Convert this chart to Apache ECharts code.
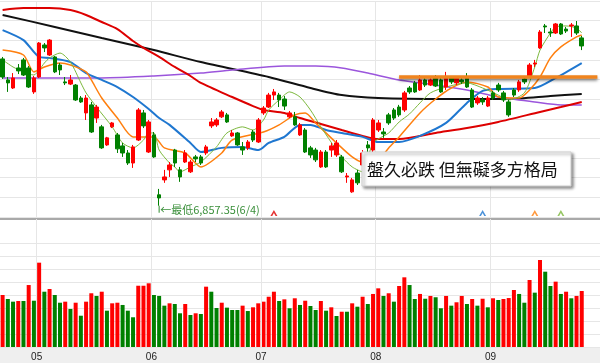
<!DOCTYPE html>
<html><head><meta charset="utf-8">
<script src="https://cdn.jsdelivr.net/npm/echarts@6/dist/echarts.min.js"></script>
<style>html,body{margin:0;padding:0;background:#fff}#c{width:600px;height:363px}</style>
</head><body><div id="c"></div>
<script>
// ---- data (TAIEX, 2012/04/20 – 2012/09/29) ----
const monthDays = {
  '04': [20,23,24,25,26,27,30],
  '05': [2,3,4,7,8,9,10,11,14,15,16,17,18,21,22,23,24,25,28,29,30,31],
  '06': [1,4,5,6,7,8,11,12,13,14,15,18,19,20,21,22,25,26,27,28,29],
  '07': [2,3,4,5,6,9,10,11,12,13,16,17,18,19,20,23,24,25,26,27,30,31],
  '08': [1,3,6,7,8,9,10,13,14,15,16,17,20,21,22,23,24,27,28,29,30,31],
  '09': [3,4,5,6,7,10,11,12,13,14,17,18,19,20,21,24,25,26,27,28,29]
};
// [open, close, low, high]
const candles = [
[7605,7513,7503,7615],[7498,7483,7437,7513],[7457,7508,7452,7533],[7559,7544,7528,7579],[7600,7523,7518,7610],
[7559,7462,7457,7569],[7437,7508,7427,7518],[7513,7686,7508,7691],[7676,7661,7640,7686],[7625,7701,7620,7706],
[7615,7539,7533,7620],[7574,7549,7523,7584],[7488,7483,7472,7513],[7477,7498,7472,7523],[7472,7396,7391,7477],
[7406,7386,7381,7416],[7330,7406,7294,7421],[7371,7233,7228,7386],[7304,7360,7279,7371],[7259,7152,7147,7269],
[7167,7203,7162,7208],[7259,7279,7253,7284],[7218,7147,7126,7228],[7162,7126,7106,7177],[7126,7075,7065,7141],
[7075,7157,7050,7167],[7192,7345,7187,7355],[7330,7264,7253,7345],[7131,7284,7126,7294],[7218,7106,7101,7233],
[6913,6897,6857.35,6943],[6989,7004,6974,7040],[7040,7065,7004,7080],[7141,7075,7055,7147],[7040,7004,6979,7055],
[7080,7126,7075,7141],[7030,7080,7024,7091],[7106,7096,7080,7116],[7106,7075,7065,7116],[7126,7157,7116,7167],
[7264,7284,7253,7304],[7269,7294,7259,7304],[7310,7335,7304,7345],[7320,7284,7279,7330],[7213,7228,7208,7243],
[7228,7167,7162,7233],[7157,7141,7116,7182],[7152,7182,7141,7192],[7233,7192,7182,7243],[7182,7294,7177,7304],
[7330,7355,7320,7365],[7360,7421,7355,7432],[7421,7437,7396,7452],[7421,7396,7360,7432],[7401,7365,7345,7416],
[7310,7330,7304,7340],[7310,7269,7264,7335],[7218,7269,7213,7279],[7243,7131,7126,7253],[7152,7116,7101,7162],
[7141,7091,7080,7152],[7055,7131,7050,7141],[7131,7055,7050,7141],[7141,7162,7106,7177],[7116,7177,7106,7192],
[7106,7030,7024,7116],[7004,7009,6974,7024],[6928,6989,6923,6999],[7024,6974,6963,7040],[7065,7126,7050,7141],
[7167,7152,7131,7187],[7141,7294,7131,7304],[7243,7279,7233,7294],[7233,7223,7203,7253],[7320,7279,7269,7330],
[7345,7304,7294,7355],[7360,7320,7310,7371],[7345,7432,7335,7442],[7457,7437,7427,7467],[7483,7437,7432,7493],
[7447,7498,7442,7523],[7498,7472,7462,7508],[7472,7498,7467,7508],[7513,7467,7462,7523],[7498,7437,7432,7508],
[7462,7513,7447,7539],[7508,7488,7477,7518],[7483,7508,7472,7518],[7498,7488,7477,7508],[7513,7462,7457,7533],
[7447,7360,7355,7457],[7381,7406,7371,7416],[7396,7386,7371,7411],[7365,7406,7360,7416],[7432,7406,7396,7442],
[7472,7447,7437,7483],[7432,7396,7386,7442],[7386,7320,7310,7396],[7447,7421,7411,7457],[7447,7488,7437,7498],
[7503,7488,7477,7513],[7518,7574,7513,7584],[7579,7584,7564,7600],[7661,7742,7656,7752],[7773,7768,7737,7783],
[7742,7737,7717,7762],[7737,7783,7732,7788],[7783,7732,7727,7788],[7757,7747,7737,7768],[7773,7778,7717,7788],
[7773,7737,7727,7798],[7712,7671,7650,7722]
];
// volume (億元) and whether the day closed up (1) or down (0)
const volumes = [600,554,523,531,531,715,534,973,638,669,600,511,523,439,511,361,523,620,589,638,
419,504,511,485,419,343,707,707,735,600,589,477,504,496,389,496,369,389,381,696,
638,450,511,454,427,427,477,415,458,504,523,580,638,531,550,447,562,485,534,473,
427,531,419,458,358,407,407,504,465,580,496,612,677,589,620,523,704,804,715,554,
612,557,589,574,447,589,477,516,589,496,554,477,557,458,562,542,554,565,658,612,
511,773,627,1004,869,704,754,612,638,562,589,646];
const volUp = [1,0,0,1,0,1,0,1,0,1, 0,0,1,0,1,0,1,1,0,1, 0,1,1,0,0,0,1,1,1,0, 0,0,1,0,0,1,0,1,0,1,
0,0,1,0,0,0,1,0,1,1, 1,1,1,0,1,0,1,0,1,0, 0,1,0,1,0,1,0,1,0,1, 0,1,1,0,1,0,1,1,0,0,
1,0,1,0,0,1,0,1,1,0, 1,0,1,0,1,0,1,1,1,0, 0,1,0,1,0,0,1,0,1,0, 1,1];
// moving averages: [dayIndex, value]
const ma5 = [[0,7600],[2,7564],[4,7539],[6,7523],[7,7549],[8,7584],[9,7610],[11,7635],[13,7589],[15,7483],[16,7432],[18,7360],[21,7259],[23,7177],[25,7152],[27,7192],[28,7228],[29,7228],[30,7141],[32,7075],[33,7055],[34,7030],[36,7055],[38,7080],[41,7157],[43,7228],[46,7259],[48,7243],[50,7294],[51,7345],[53,7396],[55,7437],[57,7411],[59,7345],[61,7259],[64,7141],[65,7106],[67,7055],[69,7030],[71,7177],[74,7228],[76,7284],[78,7325],[80,7381],[82,7432],[85,7462],[89,7483],[92,7457],[95,7421],[97,7396],[100,7432],[102,7564],[103,7650],[105,7737],[106,7768],[108,7773],[110,7762],[111,7737]];
const ma10 = [[0,7650],[4,7625],[6,7539],[8,7564],[11,7584],[13,7574],[16,7539],[17,7498],[19,7406],[22,7304],[25,7208],[29,7208],[31,7152],[35,7126],[38,7055],[42,7126],[44,7192],[50,7233],[53,7269],[56,7320],[58,7330],[60,7279],[64,7177],[67,7106],[69,7080],[72,7091],[74,7152],[76,7208],[80,7330],[83,7401],[86,7457],[89,7488],[93,7462],[95,7411],[99,7406],[101,7447],[103,7513],[105,7610],[107,7666],[110,7717],[111,7727]];
const ma20 = [[0,7752],[4,7701],[7,7615],[9,7610],[13,7589],[16,7533],[19,7498],[22,7462],[25,7411],[28,7350],[30,7304],[32,7269],[36,7177],[38,7131],[42,7152],[46,7157],[49,7141],[51,7177],[54,7208],[57,7269],[59,7269],[62,7243],[65,7228],[69,7208],[72,7182],[76,7182],[80,7213],[85,7279],[89,7381],[92,7442],[95,7452],[102,7457],[106,7508],[111,7584]];
const ma60 = [[0,7854],[4,7864],[9,7864],[13,7854],[16,7829],[19,7793],[22,7757],[25,7696],[27,7661],[30,7615],[33,7564],[36,7518],[38,7483],[44,7411],[48,7365],[50,7345],[54,7330],[57,7304],[61,7274],[65,7243],[69,7213],[72,7197],[76,7197],[83,7228],[89,7253],[95,7284],[103,7335],[107,7360],[111,7386]];
const ma120 = [[0,7508],[19,7508],[29,7518],[38,7533],[44,7549],[54,7569],[60,7569],[65,7559],[70,7533],[76,7498],[83,7472],[89,7447],[95,7411],[102,7386],[107,7371],[111,7371]];
const ma240 = [[0,7829],[10,7768],[19,7712],[29,7650],[38,7589],[51,7513],[59,7457],[65,7421],[72,7406],[85,7401],[97,7401],[105,7416],[111,7427]];
// annotations
const resistLevel = 7513, resistFrom = 76;
const lowIdx = 30, lowValue = 6857.35, lowText = '←最低6,857.35(6/4)';
const signals = {ma60: [52], ma20: [92], ma10: [102], ma5: [107]};
const noteText = '盤久必跌 但無礙多方格局';
const priceMin = 6800, priceMax = 7900, priceStep = 100;
const volMax = 1200, volStep = 150;

// ---- build ----
const categories = [], monthStart = new Set();
Object.keys(monthDays).forEach(m => {
  monthDays[m].forEach((d, k) => {
    if (k === 0 && m !== '04') monthStart.add(categories.length);
    categories.push('2012/' + m + '/' + String(d).padStart(2, '0'));
  });
});
const lastIdx = categories.length - 1;
const gridColor = '#e6e6e6';
const monthSplit = {show: true, interval: (i) => monthStart.has(i), lineStyle: {color: gridColor, width: 1}};
const baseX = (gi, extra) => Object.assign({
  type: 'category', gridIndex: gi, data: categories, boundaryGap: true,
  axisLine: {show: false}, axisTick: {show: false}, axisLabel: {show: false},
  splitLine: monthSplit
}, extra || {});
const colors = {ma5: '#7cb83c', ma10: '#ff7f0e', ma20: '#1f77d0', ma60: '#dd0000', ma120: '#9b55dc', ma240: '#111111'};
const lineS = (name, data, width) => ({
  name, type: 'line', xAxisIndex: 0, yAxisIndex: 0, data, symbol: 'none', smooth: 0.25,
  lineStyle: {color: colors[name], width}, itemStyle: {color: colors[name]}, z: 3, silent: true
});
const chevron = 'path://M0,10 L5,0 L10,10 L7.4,10 L5,5.2 L2.6,10 Z';
const signalSeries = Object.keys(signals).map(k => ({
  type: 'scatter', xAxisIndex: 0, yAxisIndex: 0, symbol: chevron, symbolSize: [7, 6], symbolOffset: [0, -4],
  data: signals[k].map(i => [i, priceMin]), itemStyle: {color: colors[k]}, z: 5, silent: true
}));

const chart = echarts.init(document.getElementById('c'), null, {renderer: 'canvas'});
const staticGraphic = [
  {type: 'rect', shape: {x: 0, y: 348, width: 600, height: 15}, style: {fill: '#efefef'}, z: -5, silent: true},
  {type: 'line', shape: {x1: 0, y1: 219, x2: 600, y2: 219}, style: {stroke: '#8c8c8c', lineWidth: 1.5}, silent: true},
  {type: 'rect', shape: {x: 362, y: 152, width: 209, height: 34},
   style: {fill: '#fff', stroke: '#cfcfcf', lineWidth: 1, shadowBlur: 3, shadowOffsetX: 2, shadowOffsetY: 2, shadowColor: 'rgba(0,0,0,0.45)'}, z: 100, silent: true},
  {type: 'text', x: 367, y: 169.5, style: {text: noteText, fill: '#111', font: '17px "Noto Sans CJK TC"', verticalAlign: 'middle'}, z: 101, silent: true}
];
const option = {
  animation: false,
  backgroundColor: '#fff',
  grid: [
    {left: -2, right: 0, top: 1, height: 216},
    {left: -2, right: 0, top: 243, height: 104},
    {left: -2, right: 0, top: 219, height: 24}
  ],
  xAxis: [
    baseX(0),
    baseX(1, {z: 10, axisLabel: {show: true, interval: (i) => monthStart.has(i), formatter: v => v.slice(5, 7),
      color: '#222', fontSize: 10, fontFamily: 'Liberation Sans', margin: 5, padding: [0, 5, 0, 0]}}),
    baseX(2)
  ],
  yAxis: [
    {type: 'value', gridIndex: 0, min: priceMin, max: priceMax, interval: priceStep, axisLabel: {show: false},
     axisLine: {show: false}, axisTick: {show: false}, splitLine: {lineStyle: {color: gridColor}}},
    {type: 'value', gridIndex: 1, min: 0, max: volMax, interval: volStep, axisLabel: {show: false},
     axisLine: {show: false}, axisTick: {show: false}, splitLine: {lineStyle: {color: gridColor}}},
    {type: 'value', gridIndex: 2, show: false, splitLine: {show: false}}
  ],
  series: [
    {type: 'candlestick', xAxisIndex: 0, yAxisIndex: 0, data: candles, barWidth: 4, z: 4, silent: true,
     itemStyle: {color: '#ff0000', color0: '#008000', borderColor: '#ff0000', borderColor0: '#008000', borderWidth: 1},
     markLine: {silent: true, symbol: 'none', label: {show: false},
       lineStyle: {type: 'solid', color: '#f0841e', width: 3.5, shadowColor: 'rgba(0,0,0,0.45)', shadowBlur: 3, shadowOffsetY: 2},
       data: [[{coord: [resistFrom, resistLevel]}, {coord: [lastIdx, resistLevel]}]]}},
    lineS('ma240', ma240, 2),
    lineS('ma120', ma120, 1.5),
    lineS('ma60', ma60, 2),
    lineS('ma20', ma20, 2),
    lineS('ma10', ma10, 1.5),
    lineS('ma5', ma5, 1),
    ...signalSeries,
    {type: 'bar', xAxisIndex: 1, yAxisIndex: 1, data: volumes, barWidth: 4, silent: true,
     itemStyle: {color: p => volUp[p.dataIndex] ? '#ff0000' : '#008000'}}
  ],
  graphic: staticGraphic
};
chart.setOption(option);
const p = chart.convertToPixel({gridIndex: 0}, [lowIdx, lowValue]);
chart.setOption({graphic: staticGraphic.concat([
  {type: 'line', shape: {x1: p[0], y1: p[1], x2: p[0], y2: p[1] + 7}, style: {stroke: '#2e8b2e', lineWidth: 1}, z: 50, silent: true},
  {type: 'text', x: p[0] + 1, y: p[1] + 4, style: {text: lowText, fill: '#3a8f3a', font: '11px "Noto Sans CJK TC"', verticalAlign: 'middle'}, z: 50, silent: true}
])});
</script></body></html>
